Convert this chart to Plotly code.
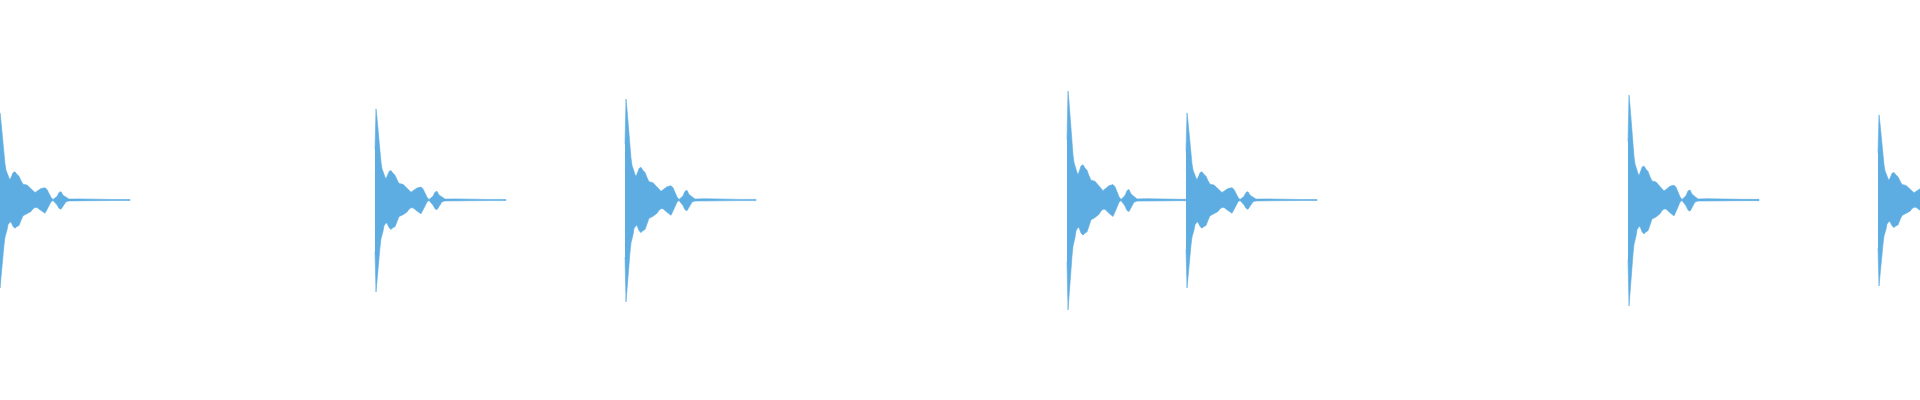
import plotly.graph_objects as go

# waveform of a short percussive loop, 2 ms per screen pixel
onsets_ms = [-2, 750, 1250, 2134, 2372, 3256, 3756]
peak_gain = [0.44, 0.46, 0.51, 0.55, 0.44, 0.53, 0.43]

# decay envelope of one hit (fraction of its peak)
env_offset_ms = [0, 2, 4, 6, 8, 10, 12, 14, 16, 18,
                 20, 22, 24, 26, 28, 32, 36, 40, 44, 48,
                 56, 64, 68, 72, 76, 84, 92, 96, 100, 104,
                 108, 116, 120, 124, 128, 134, 140, 160, 174, 200,
                 230, 262]
env_upper = [0.55, 0.99, 0.89, 0.75, 0.62, 0.51, 0.41, 0.34, 0.30, 0.27,
             0.25, 0.23, 0.25, 0.28, 0.31, 0.32, 0.29, 0.27, 0.22, 0.18,
             0.17, 0.13, 0.10, 0.085, 0.10, 0.13, 0.14, 0.12, 0.075, 0.03,
             0.005, 0.04, 0.085, 0.095, 0.055, 0.03, 0.01, 0.012, 0.01, 0.006,
             0.006, 0.006]
env_lower = [0.56, 1.0, 0.89, 0.76, 0.63, 0.51, 0.42, 0.38, 0.34, 0.28,
             0.26, 0.25, 0.25, 0.26, 0.30, 0.32, 0.30, 0.29, 0.23, 0.18,
             0.16, 0.13, 0.10, 0.085, 0.085, 0.12, 0.15, 0.11, 0.065, 0.02,
             0.005, 0.055, 0.095, 0.105, 0.065, 0.02, 0.01, 0.01, 0.01, 0.006,
             0.006, 0.006]

WAVE_COLOR = "#5DADE2"
DURATION_MS = 3840

fig = go.Figure()

for onset, gain in zip(onsets_ms, peak_gain):
    xs = [onset + t for t in env_offset_ms]
    top = [gain * a for a in env_upper]
    bottom = [-gain * a for a in env_lower]
    fig.add_trace(go.Scatter(
        x=xs + xs[::-1],
        y=top + bottom[::-1],
        mode="lines",
        fill="toself",
        fillcolor=WAVE_COLOR,
        line=dict(color=WAVE_COLOR, width=0.6),
        hoverinfo="skip",
        showlegend=False,
    ))

fig.update_layout(
    width=1920,
    height=400,
    margin=dict(l=0, r=0, t=0, b=0),
    paper_bgcolor="white",
    plot_bgcolor="white",
    showlegend=False,
)
fig.update_xaxes(range=[0, DURATION_MS], visible=False, fixedrange=True)
fig.update_yaxes(range=[-1, 1], visible=False, fixedrange=True)

# drop the browser's default body margin so the plot sits flush at the edges
fig.write_html(
    "out.html",
    config={"displayModeBar": False, "staticPlot": True},
    post_script="document.body.style.margin='0';",
)
